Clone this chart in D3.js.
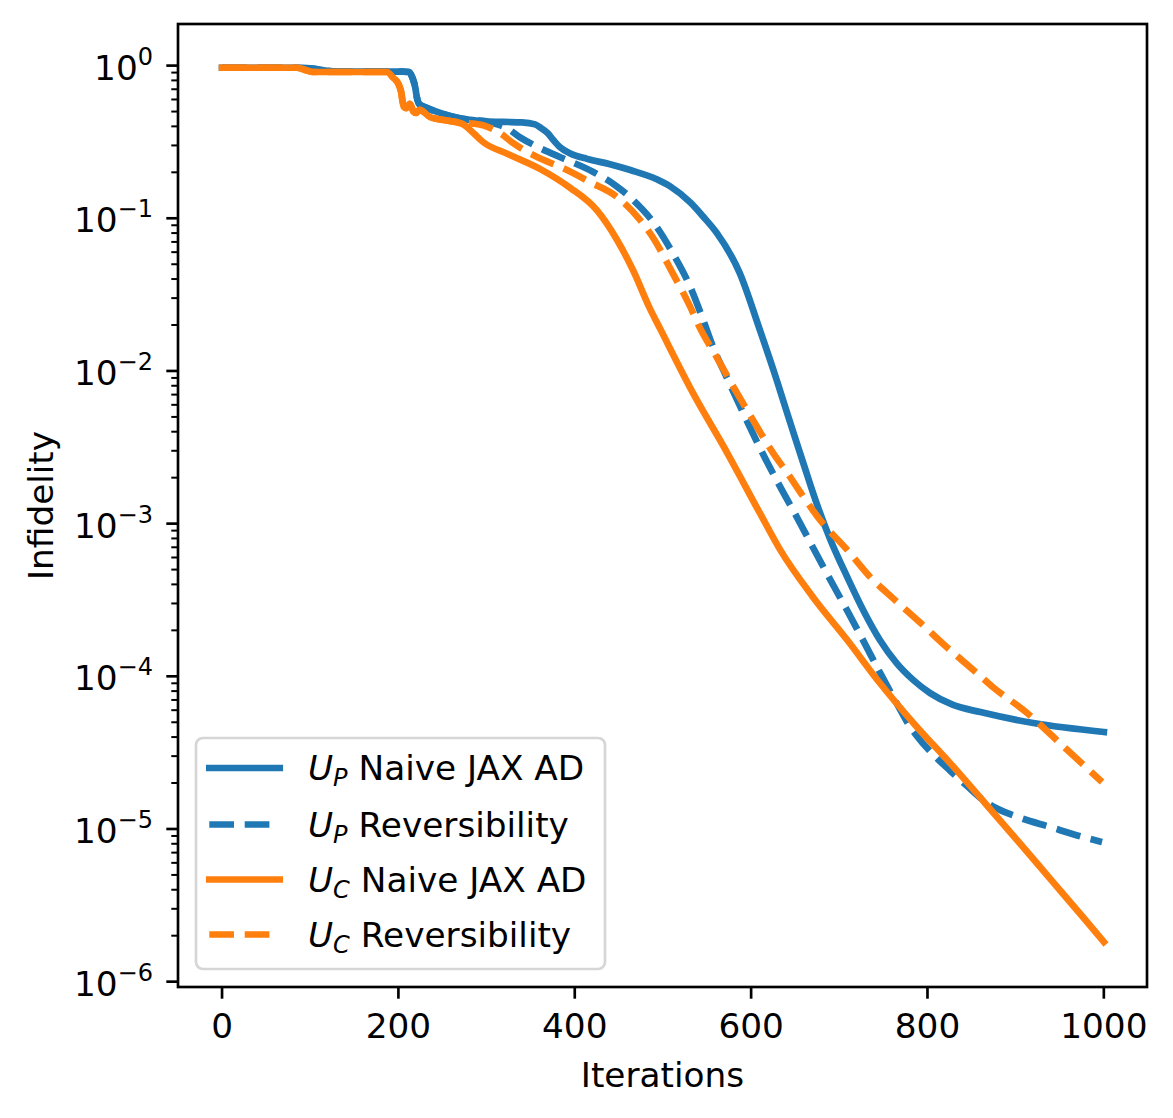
<!DOCTYPE html>
<html>
<head>
<meta charset="utf-8">
<script src="https://cdn.jsdelivr.net/npm/d3@7"></script>
<style>
  html, body { margin: 0; padding: 0; background: #fff; }
  svg { display: block; }
  text { font-family: "DejaVu Sans", sans-serif; fill: #000; }
</style>
</head>
<body>
<div id="chart"></div>
<script>
// ---------------- DATA ----------------
const xTicks = [0, 200, 400, 600, 800, 1000];
const yTickExps = [0, -1, -2, -3, -4, -5, -6];

const seriesNames = ["UP Naive JAX AD", "UP Reversibility", "UC Naive JAX AD", "UC Reversibility"];

const iterUPNaive = [0, 85, 100, 115, 130, 205, 212, 216, 219, 221, 224, 230, 244, 262, 281, 300, 319, 340, 355, 362, 369, 376, 383, 395, 414, 440, 463, 493, 508, 531, 546, 561, 587, 610, 629, 647, 659, 675, 690, 709, 727, 746, 765, 784, 803, 829, 860, 920, 1000];
const valUPNaive = [0.968, 0.968, 0.959, 0.933, 0.912, 0.912, 0.908, 0.832, 0.724, 0.617, 0.556, 0.535, 0.497, 0.462, 0.441, 0.432, 0.428, 0.425, 0.412, 0.389, 0.362, 0.324, 0.293, 0.266, 0.245, 0.226, 0.207, 0.180, 0.162, 0.127, 0.102, 0.0802, 0.0439, 0.0185, 0.00873, 0.00410, 0.00251, 0.00132, 0.000782, 0.000447, 0.000272, 0.000173, 0.000122, 9.44e-5, 7.76e-5, 6.49e-5, 5.83e-5, 4.94e-5, 4.32e-5];

const iterUPRev = [0, 85, 100, 115, 130, 205, 212, 216, 219, 221, 224, 230, 244, 262, 281, 300, 312, 323, 338, 357, 383, 421, 445, 466, 493, 511, 531, 545, 557, 573, 591, 610, 633, 652, 670, 690, 709, 727, 746, 765, 777, 788, 806, 826, 845, 863, 880, 902, 939, 976, 998];
const valUPRev = [0.968, 0.968, 0.959, 0.933, 0.912, 0.912, 0.908, 0.832, 0.724, 0.617, 0.556, 0.535, 0.497, 0.462, 0.441, 0.429, 0.412, 0.390, 0.339, 0.295, 0.252, 0.201, 0.166, 0.132, 0.0877, 0.0593, 0.0355, 0.0221, 0.0143, 0.00891, 0.00531, 0.00313, 0.00174, 0.00110, 0.000700, 0.000427, 0.000269, 0.000172, 0.000106, 6.68e-5, 5.01e-5, 4.07e-5, 3.09e-5, 2.40e-5, 1.91e-5, 1.55e-5, 1.35e-5, 1.20e-5, 1.03e-5, 8.87e-6, 8.22e-6];

const iterUCNaive = [0, 85, 95, 103, 187, 194, 200, 203, 206, 209, 213, 217, 220, 224, 236, 255, 273, 285, 296, 324, 361, 395, 425, 448, 466, 485, 497, 534, 573, 610, 633, 670, 709, 746, 788, 826, 863, 902, 939, 976, 1000];
const valUCNaive = [0.968, 0.968, 0.933, 0.908, 0.908, 0.832, 0.759, 0.676, 0.537, 0.525, 0.562, 0.501, 0.490, 0.513, 0.460, 0.437, 0.414, 0.362, 0.316, 0.264, 0.210, 0.158, 0.113, 0.0721, 0.0458, 0.0258, 0.0188, 0.00718, 0.00290, 0.00117, 0.000673, 0.000331, 0.000173, 9.04e-5, 4.66e-5, 2.69e-5, 1.53e-5, 8.41e-6, 4.73e-6, 2.66e-6, 1.82e-6];

const iterUCRev = [0, 85, 95, 103, 187, 194, 200, 203, 206, 209, 213, 217, 220, 224, 236, 255, 273, 285, 296, 315, 330, 355, 389, 417, 448, 474, 489, 511, 531, 542, 561, 580, 602, 625, 641, 660, 678, 709, 735, 761, 792, 822, 852, 874, 913, 950, 998];
const valUCRev = [0.968, 0.968, 0.933, 0.908, 0.908, 0.832, 0.759, 0.676, 0.537, 0.525, 0.562, 0.501, 0.490, 0.513, 0.460, 0.437, 0.422, 0.417, 0.407, 0.362, 0.311, 0.256, 0.210, 0.173, 0.138, 0.0975, 0.0743, 0.0437, 0.0263, 0.0191, 0.0123, 0.00785, 0.00478, 0.00290, 0.00215, 0.00148, 0.00106, 0.000673, 0.000447, 0.000324, 0.000224, 0.000155, 0.000110, 8.51e-5, 5.75e-5, 3.66e-5, 2.03e-5];

// ---------------- LAYOUT ----------------
const W = 1173, H = 1118;
const plot = { left: 178, right: 1147, top: 24, bottom: 987 };
const FS = 34.3;
const SUB = 24;
const LW = 6.7;
const DASH = "24.7,10.7";
const blue = "#1f77b4", orange = "#ff7f0e";

const series = [
  { name: seriesNames[0], sub: "P", label: "Naive JAX AD", x: iterUPNaive, y: valUPNaive, color: blue, dashed: false },
  { name: seriesNames[1], sub: "P", label: "Reversibility", x: iterUPRev, y: valUPRev, color: blue, dashed: true },
  { name: seriesNames[2], sub: "C", label: "Naive JAX AD", x: iterUCNaive, y: valUCNaive, color: orange, dashed: false },
  { name: seriesNames[3], sub: "C", label: "Reversibility", x: iterUCRev, y: valUCRev, color: orange, dashed: true }
];

const svg = d3.select("#chart").append("svg")
  .attr("width", W).attr("height", H)
  .attr("viewBox", `0 0 ${W} ${H}`);
svg.append("rect").attr("width", W).attr("height", H).attr("fill", "#fff");

const x = d3.scaleLinear().domain([-49.95, 1048.95]).range([plot.left, plot.right]);
const y = d3.scaleLog().domain([Math.pow(10, -6.035), Math.pow(10, 0.2725)]).range([plot.bottom, plot.top]);

// lines
const g = svg.append("g");
const line = d3.line().x(d => x(d[0])).y(d => y(d[1])).curve(d3.curveMonotoneX);
series.forEach(s => {
  const pts = s.x.map((v, i) => [v, s.y[i]]);
  g.append("path")
    .attr("d", line(pts))
    .attr("fill", "none")
    .attr("stroke", s.color)
    .attr("stroke-width", LW)
    .attr("stroke-linejoin", "round")
    .attr("stroke-linecap", s.dashed ? "butt" : "square")
    .attr("stroke-dasharray", s.dashed ? DASH : null);
});

// axes ticks
const axG = svg.append("g");
// x ticks
xTicks.forEach(t => {
  const px = x(t);
  axG.append("line").attr("x1", px).attr("x2", px)
    .attr("y1", plot.bottom).attr("y2", plot.bottom + 11.7)
    .attr("stroke", "#000").attr("stroke-width", 2.67);
  axG.append("text").attr("x", px).attr("y", 1038)
    .attr("text-anchor", "middle").attr("font-size", FS).text(String(t));
});
// y major ticks
yTickExps.forEach(e => {
  const py = y(Math.pow(10, e));
  axG.append("line").attr("x1", plot.left - 11.7).attr("x2", plot.left)
    .attr("y1", py).attr("y2", py)
    .attr("stroke", "#000").attr("stroke-width", 2.67);
  const t = axG.append("text").attr("x", 153).attr("y", py + 14)
    .attr("text-anchor", "end").attr("font-size", FS);
  t.append("tspan").text("10");
  t.append("tspan").attr("font-size", SUB).attr("dy", -15)
    .text(e < 0 ? "\u2212" + Math.abs(e) : String(e));
});
// y minor ticks
const [dmin, dmax] = y.domain();
for (let e = -7; e <= 0; e++) {
  for (let m = 2; m <= 9; m++) {
    const v = m * Math.pow(10, e);
    if (v < dmin || v > dmax) continue;
    const py = y(v);
    axG.append("line").attr("x1", plot.left - 6.7).attr("x2", plot.left)
      .attr("y1", py).attr("y2", py)
      .attr("stroke", "#000").attr("stroke-width", 2);
  }
}

// spines
svg.append("rect")
  .attr("x", plot.left).attr("y", plot.top)
  .attr("width", plot.right - plot.left).attr("height", plot.bottom - plot.top)
  .attr("fill", "none").attr("stroke", "#000").attr("stroke-width", 2.67);

// axis labels
svg.append("text").attr("x", (plot.left + plot.right) / 2).attr("y", 1087)
  .attr("text-anchor", "middle").attr("font-size", FS).text("Iterations");
svg.append("text")
  .attr("transform", `translate(53, ${(plot.top + plot.bottom) / 2}) rotate(-90)`)
  .attr("text-anchor", "middle").attr("font-size", FS).text("Infidelity");

// legend
const leg = svg.append("g");
leg.append("rect").attr("x", 196).attr("y", 738).attr("width", 409).attr("height", 231)
  .attr("rx", 7).attr("ry", 7)
  .attr("fill", "#fff").attr("fill-opacity", 0.8)
  .attr("stroke", "#d6d6d6").attr("stroke-width", 2.67);
const rowY = [768, 824.5, 879.5, 934.5];
series.forEach((s, i) => {
  const cy = rowY[i];
  leg.append("line").attr("x1", 209.3).attr("x2", 279.7).attr("y1", cy).attr("y2", cy)
    .attr("stroke", s.color).attr("stroke-width", LW)
    .attr("stroke-linecap", s.dashed ? "butt" : "square")
    .attr("stroke-dasharray", s.dashed ? DASH : null);
  const t = leg.append("text").attr("x", 308).attr("y", cy + 12).attr("font-size", FS);
  t.append("tspan").attr("font-style", "italic").text("U");
  t.append("tspan").attr("font-style", "italic").attr("font-size", SUB).attr("dy", 6).text(s.sub);
  t.append("tspan").attr("dy", -6).text("\u00a0" + s.label);
});
</script>
</body>
</html>
